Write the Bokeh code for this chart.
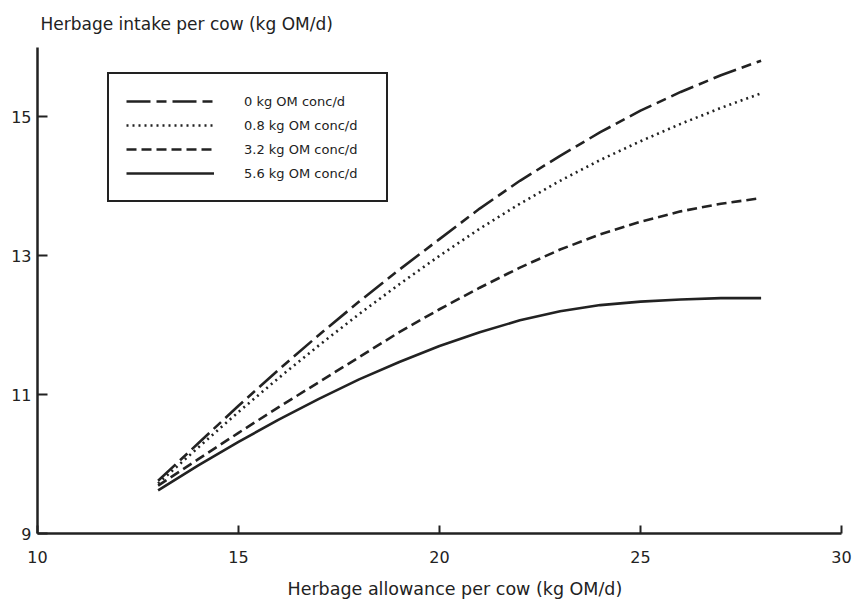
from bokeh.plotting import figure
from bokeh.models import Range1d, FixedTicker, Legend, LegendItem, Title
from bokeh.embed import file_html
from bokeh.resources import INLINE

# Herbage allowance per cow (kg OM/d)
allowance = [13, 14, 15, 16, 17, 18, 19, 20, 21, 22, 23, 24, 25, 26, 27, 28]

# Herbage intake per cow (kg OM/d) at each concentrate level
intake_conc_0 = [9.76, 10.30, 10.84, 11.36, 11.86, 12.34, 12.80, 13.24,
                 13.68, 14.08, 14.44, 14.78, 15.09, 15.36, 15.60, 15.81]
intake_conc_08 = [9.72, 10.24, 10.75, 11.24, 11.71, 12.16, 12.59, 13.00,
                  13.39, 13.75, 14.08, 14.38, 14.65, 14.90, 15.13, 15.34]
intake_conc_32 = [9.69, 10.07, 10.45, 10.82, 11.18, 11.54, 11.90, 12.23,
                  12.54, 12.83, 13.09, 13.31, 13.49, 13.64, 13.75, 13.83]
intake_conc_56 = [9.62, 9.98, 10.32, 10.64, 10.94, 11.22, 11.47, 11.70,
                  11.90, 12.07, 12.20, 12.29, 12.34, 12.37, 12.39, 12.39]

series_labels = ["0 kg OM conc/d", "0.8 kg OM conc/d",
                 "3.2 kg OM conc/d", "5.6 kg OM conc/d"]
x_ticks = [10, 15, 20, 25, 30]
y_ticks = [9, 11, 13, 15]

FONT = "DejaVu Sans"
INK = "#222222"

p = figure(
    width=855, height=607,
    frame_width=804, frame_height=486,
    min_border_left=37, min_border_right=14,
    min_border_top=47, min_border_bottom=74,
    x_range=Range1d(10, 30), y_range=Range1d(9, 16),
    output_backend="svg", toolbar_location=None,
    background_fill_color="white", border_fill_color="white",
)
p.outline_line_color = None
p.grid.visible = False

# y-axis title sits above the plot, flush with the axis
p.title.text = "Herbage intake per cow (kg OM/d)"
p.title.align = "left"
p.title.offset = 3
p.title.standoff = 24
p.title.vertical_align = "top"
p.title.text_font = FONT
p.title.text_font_size = "17px"
p.title.text_font_style = "normal"
p.title.text_color = INK

for ax in (p.xaxis[0], p.yaxis[0]):
    ax.axis_line_color = INK
    ax.axis_line_width = 2.5
    ax.major_tick_line_color = INK
    ax.major_tick_line_width = 2
    ax.minor_tick_line_color = None
    ax.major_tick_out = 0
    ax.major_label_text_font = FONT
    ax.major_label_text_font_size = "16px"
    ax.major_label_text_color = INK

p.xaxis.ticker = FixedTicker(ticks=x_ticks)
p.yaxis.ticker = FixedTicker(ticks=y_ticks)
p.xaxis.major_tick_in = 8
p.yaxis.major_tick_in = 10
p.xaxis.major_label_standoff = 17
p.yaxis.major_label_standoff = 6

# x-axis title, placed under the tick labels
p.add_layout(Title(text="Herbage allowance per cow (kg OM/d)", align="left",
                   offset=250, standoff=22, vertical_align="bottom",
                   text_font=FONT, text_font_size="17.5px",
                   text_font_style="normal", text_color=INK), "below")

common = dict(line_color=INK, line_width=2.6)
r0 = p.line(allowance, intake_conc_0, line_dash="24 6 10 6", **common)
r1 = p.line(allowance, intake_conc_08, line_dash="2 4", **common)
r2 = p.line(allowance, intake_conc_32, line_dash="10 5", **common)
r3 = p.line(allowance, intake_conc_56, **common)

legend = Legend(
    items=[LegendItem(label=lab, renderers=[r]) for lab, r in
           zip(series_labels, [r0, r1, r2, r3])],
    location=(70, 331),
    border_line_color=INK, border_line_width=2, border_line_alpha=1,
    background_fill_color="white", background_fill_alpha=1,
    glyph_width=88, glyph_height=20, label_height=20, label_width=125,
    label_standoff=30, spacing=4, padding=17, margin=0,
    label_text_font=FONT, label_text_font_size="13px",
    label_text_color=INK,
)
p.add_layout(legend, "center")

open("out.html", "w").write(file_html(p, INLINE))
